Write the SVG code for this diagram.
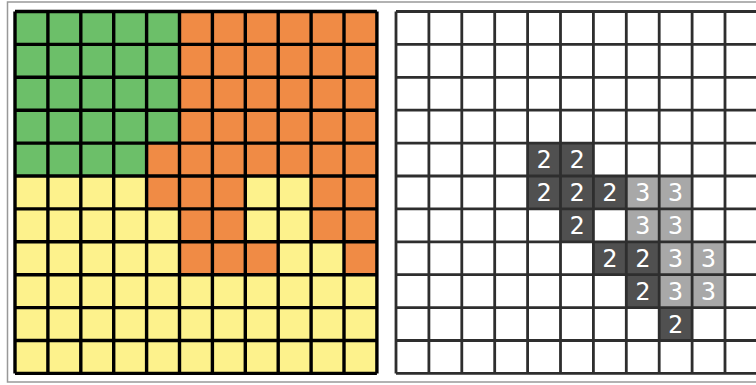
<svg xmlns="http://www.w3.org/2000/svg" width="756" height="385" viewBox="0 0 756 385">
<style>
.g{fill:#6cbf69}.o{fill:#f08b45}.y{fill:#fdf28c}
.d{fill:#505050}.l{fill:#a8a8a8}
.lg{fill:none;stroke:#000;stroke-width:3.4}
.rg{fill:none;stroke:#2e2e2e;stroke-width:2.8}
.t{font-family:"DejaVu Sans Mono","Liberation Mono",monospace;font-size:25px;fill:#fff;text-anchor:middle;dominant-baseline:central}
</style>
<rect x="0" y="0" width="756" height="385" fill="#fff"/>
<rect x="7.5" y="2" width="760" height="380" fill="#fff" stroke="#999" stroke-width="1.5"/>
<g id="left-panel">
<rect class="y" x="15" y="11.5" width="361.9" height="361.9"/>
<rect class="g" x="15" y="11.5" width="164.5" height="131.6"/>
<rect class="g" x="15" y="143.1" width="131.6" height="32.9"/>
<rect class="o" x="179.5" y="11.5" width="197.4" height="164.5"/>
<rect class="o" x="146.6" y="143.1" width="32.9" height="32.9"/>
<rect class="o" x="146.6" y="176" width="98.7" height="32.9"/>
<rect class="o" x="311.1" y="176" width="65.8" height="65.8"/>
<rect class="o" x="179.5" y="208.9" width="65.8" height="32.9"/>
<rect class="o" x="179.5" y="241.8" width="98.7" height="32.9"/>
<rect class="o" x="344" y="241.8" width="32.9" height="32.9"/>
<path class="lg" d="M15 11.5V373.4M47.9 11.5V373.4M80.8 11.5V373.4M113.7 11.5V373.4M146.6 11.5V373.4M179.5 11.5V373.4M212.4 11.5V373.4M245.3 11.5V373.4M278.2 11.5V373.4M311.1 11.5V373.4M344 11.5V373.4M376.9 11.5V373.4M15 11.5H376.9M15 44.4H376.9M15 77.3H376.9M15 110.2H376.9M15 143.1H376.9M15 176H376.9M15 208.9H376.9M15 241.8H376.9M15 274.7H376.9M15 307.6H376.9M15 340.5H376.9M15 373.4H376.9"/>
</g>
<g id="right-panel">
<rect class="d" x="527.6" y="143.1" width="65.8" height="32.9"/>
<rect class="d" x="527.6" y="176" width="98.7" height="32.9"/>
<rect class="d" x="560.5" y="208.9" width="32.9" height="32.9"/>
<rect class="d" x="593.4" y="241.8" width="65.8" height="32.9"/>
<rect class="d" x="626.3" y="274.7" width="32.9" height="32.9"/>
<rect class="d" x="659.2" y="307.6" width="32.9" height="32.9"/>
<rect class="l" x="626.3" y="176" width="65.8" height="65.8"/>
<rect class="l" x="659.2" y="241.8" width="65.8" height="65.8"/>
<path class="rg" d="M396 11.5V373.4M428.9 11.5V373.4M461.8 11.5V373.4M494.7 11.5V373.4M527.6 11.5V373.4M560.5 11.5V373.4M593.4 11.5V373.4M626.3 11.5V373.4M659.2 11.5V373.4M692.1 11.5V373.4M725 11.5V373.4M396 11.5H760M396 44.4H760M396 77.3H760M396 110.2H760M396 143.1H760M396 176H760M396 208.9H760M396 241.8H760M396 274.7H760M396 307.6H760M396 340.5H760M396 373.4H760"/>
<g class="t">
<text x="544" y="159.5">2</text><text x="577" y="159.5">2</text>
<text x="544" y="192.4">2</text><text x="577" y="192.4">2</text><text x="609.9" y="192.4">2</text><text x="642.7" y="192.4">3</text><text x="675.6" y="192.4">3</text>
<text x="577" y="225.3">2</text><text x="642.7" y="225.3">3</text><text x="675.6" y="225.3">3</text>
<text x="609.9" y="258.2">2</text><text x="642.7" y="258.2">2</text><text x="675.6" y="258.2">3</text><text x="708.5" y="258.2">3</text>
<text x="642.7" y="291.1">2</text><text x="675.6" y="291.1">3</text><text x="708.5" y="291.1">3</text>
<text x="675.6" y="324">2</text>
</g>
</g>
</svg>
